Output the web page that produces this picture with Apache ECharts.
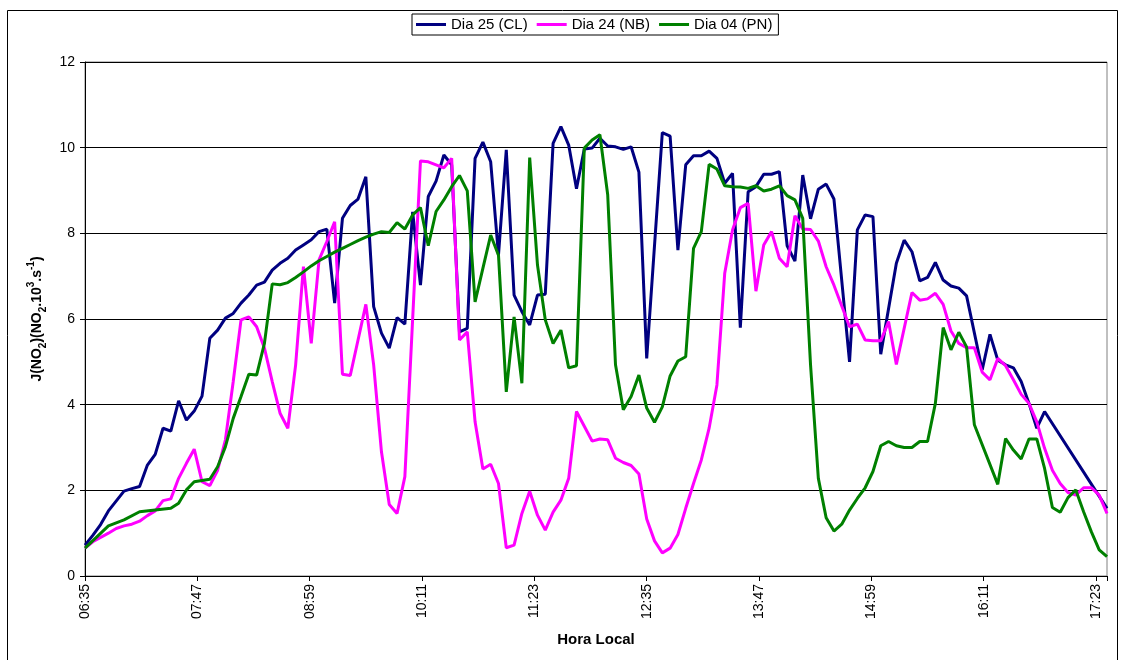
<!DOCTYPE html>
<html><head><meta charset="utf-8">
<script src="https://cdn.jsdelivr.net/npm/echarts@6/dist/echarts.min.js"></script>
<style>html,body{margin:0;padding:0;background:#fff}#c{width:1121px;height:660px}</style>
</head><body><div id="c"></div>
<script>
// time axis: minutes after 06:35 (local time), ticks every 72 min
const START_MIN = 6 * 60 + 35;
const X_STEP = 72;
const X_SPAN = 655;
const Y_MAX = 12;
const Y_STEP = 2;
const seriesNames = ['Dia 25 (CL)', 'Dia 24 (NB)', 'Dia 04 (PN)'];
const seriesColors = ['#000080', '#FF00FF', '#008000'];

// [minutes after 06:35, J(NO2)]
const dia25CL = [[0,0.72],[5,0.95],[10,1.2],[15,1.52],[25,1.98],[30,2.04],[35,2.09],[40,2.59],[45,2.84],[50,3.45],[55,3.38],[60,4.09],[65,3.64],[70,3.85],[75,4.2],[80,5.55],[85,5.74],[90,6.02],[95,6.13],[100,6.37],[105,6.56],[110,6.79],[115,6.86],[120,7.14],[125,7.3],[130,7.42],[135,7.61],[140,7.73],[145,7.85],[150,8.04],[155,8.1],[160,6.37],[165,8.35],[170,8.65],[175,8.8],[180,9.32],[185,6.29],[190,5.67],[195,5.32],[200,6.03],[205,5.88],[210,8.5],[215,6.79],[220,8.86],[225,9.22],[230,9.83],[235,9.6],[240,5.7],[245,5.78],[250,9.75],[255,10.13],[260,9.67],[265,7.49],[270,9.95],[275,6.56],[280,6.17],[285,5.86],[290,6.56],[295,6.58],[300,10.1],[305,10.49],[310,10.06],[315,9.04],[320,9.97],[325,9.99],[330,10.22],[335,10.04],[340,10.02],[345,9.96],[350,10.02],[355,9.43],[360,5.08],[370,10.35],[375,10.27],[380,7.61],[385,9.6],[390,9.81],[395,9.81],[400,9.92],[405,9.75],[410,9.17],[415,9.4],[420,5.8],[425,8.97],[430,9.09],[435,9.38],[440,9.38],[445,9.44],[450,7.71],[455,7.35],[460,9.36],[465,8.34],[470,9.03],[475,9.15],[480,8.8],[490,5.0],[495,8.08],[500,8.43],[505,8.39],[510,5.18],[520,7.3],[525,7.84],[530,7.57],[535,6.89],[540,6.97],[545,7.32],[550,6.91],[555,6.77],[560,6.72],[565,6.54],[575,4.81],[580,5.64],[585,5.04],[590,4.93],[595,4.86],[600,4.54],[605,4.03],[610,3.45],[615,3.84],[655,1.58]];

const dia24NB = [[0,0.65],[5,0.8],[15,1.0],[20,1.11],[25,1.17],[30,1.21],[35,1.28],[40,1.41],[45,1.52],[50,1.76],[55,1.8],[60,2.28],[65,2.63],[70,2.96],[75,2.2],[80,2.11],[85,2.47],[90,3.18],[95,4.54],[100,5.98],[105,6.05],[110,5.82],[115,5.32],[120,4.54],[125,3.8],[130,3.45],[135,4.93],[140,7.22],[145,5.43],[150,7.38],[155,7.81],[160,8.27],[165,4.71],[170,4.68],[180,6.34],[185,4.93],[190,2.9],[195,1.67],[200,1.46],[205,2.32],[215,9.69],[220,9.67],[225,9.6],[230,9.53],[235,9.75],[240,5.51],[245,5.7],[250,3.6],[255,2.5],[260,2.61],[265,2.16],[270,0.66],[275,0.72],[280,1.46],[285,1.98],[290,1.42],[295,1.07],[300,1.49],[305,1.77],[310,2.28],[315,3.84],[325,3.15],[330,3.2],[335,3.18],[340,2.75],[345,2.65],[350,2.58],[355,2.38],[360,1.33],[365,0.82],[370,0.54],[375,0.65],[380,0.97],[385,1.58],[390,2.16],[395,2.71],[400,3.45],[405,4.46],[410,7.07],[415,8.08],[420,8.6],[425,8.7],[430,6.65],[435,7.73],[440,8.04],[445,7.42],[450,7.22],[455,8.41],[460,8.1],[465,8.09],[470,7.82],[475,7.22],[480,6.79],[490,5.82],[495,5.88],[500,5.51],[505,5.49],[510,5.49],[515,5.94],[520,4.94],[530,6.62],[535,6.44],[540,6.47],[545,6.6],[550,6.34],[555,5.72],[560,5.43],[565,5.33],[570,5.33],[575,4.76],[580,4.58],[585,5.08],[590,4.91],[595,4.58],[600,4.24],[605,4.03],[610,3.6],[615,2.98],[620,2.47],[625,2.16],[630,1.95],[635,1.89],[640,2.06],[645,2.06],[650,1.89],[655,1.46]];

const dia04PN = [[0,0.65],[15,1.17],[25,1.31],[35,1.5],[45,1.54],[55,1.58],[60,1.7],[65,2.01],[70,2.2],[75,2.23],[80,2.26],[85,2.55],[90,3.02],[95,3.68],[100,4.19],[105,4.71],[110,4.69],[115,5.43],[120,6.82],[125,6.8],[130,6.85],[135,6.97],[140,7.1],[145,7.24],[150,7.36],[155,7.46],[160,7.56],[165,7.65],[170,7.74],[175,7.83],[180,7.91],[185,7.98],[190,8.04],[195,8.02],[200,8.25],[205,8.1],[210,8.43],[215,8.6],[220,7.71],[225,8.51],[230,8.78],[235,9.09],[240,9.35],[245,8.99],[250,6.4],[255,7.18],[260,7.96],[265,7.49],[270,4.3],[275,6.05],[280,4.5],[285,9.77],[290,7.26],[295,5.98],[300,5.43],[305,5.74],[310,4.86],[315,4.91],[320,9.99],[325,10.18],[330,10.3],[335,8.9],[340,4.93],[345,3.88],[350,4.19],[355,4.69],[360,3.92],[365,3.59],[370,3.95],[375,4.67],[380,5.02],[385,5.12],[390,7.65],[395,8.04],[400,9.61],[405,9.5],[410,9.11],[415,9.09],[420,9.08],[425,9.05],[430,9.11],[435,8.99],[440,9.03],[445,9.11],[450,8.88],[455,8.78],[460,8.35],[465,4.93],[470,2.28],[475,1.36],[480,1.05],[485,1.21],[490,1.54],[495,1.81],[500,2.06],[505,2.44],[510,3.04],[515,3.14],[520,3.04],[525,3.0],[530,3.0],[535,3.14],[540,3.14],[545,4.03],[550,5.8],[555,5.28],[560,5.69],[565,5.35],[570,3.53],[585,2.14],[590,3.21],[595,2.94],[600,2.73],[605,3.2],[610,3.2],[615,2.51],[620,1.6],[625,1.49],[630,1.83],[635,2.01],[640,1.5],[645,1.03],[650,0.61],[655,0.45]];

const seriesData = [dia25CL, dia24NB, dia04PN];

function hhmm(off) {
  const m = START_MIN + off;
  const h = Math.floor(m / 60), mm = m % 60;
  return String(h).padStart(2, '0') + ':' + String(mm).padStart(2, '0');
}

const FONT = '"Liberation Sans", Arial, sans-serif';
const chart = echarts.init(document.getElementById('c'), null, {renderer: 'canvas'});
chart.setOption({
  animation: false,
  backgroundColor: '#fff',
  textStyle: {fontFamily: FONT, color: '#000'},
  graphic: [{
    type: 'rect', silent: true, z: 0,
    shape: {x: 7.5, y: 10.5, width: 1110, height: 670},
    style: {fill: null, stroke: '#000', lineWidth: 1}
  }],
  legend: {
    left: 412, top: 14,
    orient: 'horizontal',
    icon: 'rect', itemWidth: 30, itemHeight: 3, itemGap: 9,
    padding: [3, 6, 3, 4],
    borderColor: '#000', borderWidth: 1,
    backgroundColor: '#fff',
    textStyle: {fontSize: 15, color: '#000', fontFamily: FONT},
    data: seriesNames
  },
  grid: {
    left: 85, right: 14, top: 62, bottom: 84,
    show: true, borderColor: '#808080', borderWidth: 1, backgroundColor: '#fff',
    containLabel: false
  },
  xAxis: {
    type: 'value', min: 0, max: X_SPAN, interval: X_STEP,
    axisLine: {show: true, onZero: false, lineStyle: {color: '#000', width: 1}},
    axisTick: {show: true, length: 5, lineStyle: {color: '#000'}},
    axisLabel: {
      rotate: 90, fontSize: 14, color: '#000', margin: 8, fontFamily: FONT,
      formatter: v => (v % X_STEP === 0 ? hhmm(v) : '')
    },
    splitLine: {show: false},
    name: 'Hora Local', nameLocation: 'middle', nameGap: 56,
    nameTextStyle: {fontWeight: 'bold', fontSize: 15, color: '#000', fontFamily: FONT}
  },
  yAxis: {
    type: 'value', min: 0, max: Y_MAX, interval: Y_STEP,
    axisLine: {show: true, lineStyle: {color: '#000', width: 1}},
    axisTick: {show: true, length: 5, lineStyle: {color: '#000'}},
    axisLabel: {fontSize: 14, color: '#000', margin: 10, fontFamily: FONT},
    splitLine: {show: true, lineStyle: {color: '#000', width: 1}},
    name: '{b|J(NO}{s|2}{b|)(NO}{s|2}{b|.10}{p|3}{b|.s}{p|-1}{b|)}',
    nameLocation: 'middle', nameGap: 34, nameRotate: 90,
    nameTextStyle: {
      rich: {
        b: {fontWeight: 'bold', fontSize: 14, lineHeight: 22, color: '#000', fontFamily: FONT},
        s: {fontWeight: 'bold', fontSize: 10, lineHeight: 14, verticalAlign: 'bottom', color: '#000', fontFamily: FONT},
        p: {fontWeight: 'bold', fontSize: 10, lineHeight: 14, verticalAlign: 'top', color: '#000', fontFamily: FONT}
      }
    }
  },
  series: seriesData.map((d, i) => ({
    name: seriesNames[i],
    type: 'line',
    data: d,
    showSymbol: false,
    symbol: 'none',
    color: seriesColors[i],
    lineStyle: {color: seriesColors[i], width: 3},
    z: 2 + i
  }))
});
</script></body></html>
